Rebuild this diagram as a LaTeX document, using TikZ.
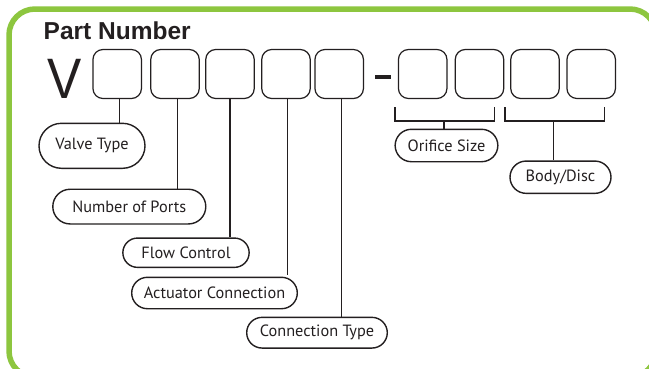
\documentclass[tikz,border=0pt]{standalone}
\usepackage{fontspec}
\setmainfont{PT Sans}
\newfontfamily\arialfont{Liberation Sans}
\usetikzlibrary{shapes.misc}
\definecolor{bordergreen}{RGB}{141,198,63}
\definecolor{ink}{RGB}{35,31,32}
\begin{document}
\begin{tikzpicture}[x=1pt,y=-1pt,
  slot/.style={draw=ink, line width=1.2pt, rounded corners=10pt, minimum width=48.5pt, minimum height=49pt, inner sep=0pt, fill=white},
  pill/.style={draw=ink, line width=1.4pt, rounded rectangle, inner sep=0pt, font=\fontsize{16.3}{18}\selectfont, text=ink, fill=white},
  link/.style={draw=ink, line width=1.2pt},
  bracketline/.style={draw=ink, line width=1.6pt},
  dashmark/.style={draw=ink, line width=3.6pt}
]
\useasboundingbox (0,0) rectangle (649,368);
\fill[white] (0,0) rectangle (649,368);
\draw[bordergreen, line width=5.5pt, rounded corners=26pt] (9,9) rectangle (656,377);

% title and prefix
\node[anchor=base west, inner sep=0pt, text=ink, font=\arialfont\bfseries\fontsize{24.5}{27}\selectfont] (title) at (43.5,39.3) {Part Number};
\node[anchor=base west, inner sep=0pt, text=ink, font=\arialfont\fontsize{57}{60}\selectfont] (vee) at (47,98) {\scalebox{0.9}[1]{V}};

% slots
\node[slot] (b1) at (117.2,74) {};
\node[slot] (b2) at (175,74) {};
\node[slot] (b3) at (230,74) {};
\node[slot] (b4) at (286,74) {};
\node[slot] (b5) at (339.2,74) {};
\draw[dashmark] (375,77) -- (390.7,77);
\node[slot] (b6) at (422.7,74) {};
\node[slot] (b7) at (479.5,74) {};
\node[slot] (b8) at (535,74) {};
\node[slot] (b9) at (591.2,74) {};

% labels
\node[pill, minimum width=106pt, minimum height=45pt] (vt) at (92,145.8) {Valve Type};
\node[pill, minimum width=153pt, minimum height=34.7pt] (np) at (129.3,206.6) {Number of Ports};
\node[pill, minimum width=126.3pt, minimum height=29.3pt] (fc) at (186,252.7) {Flow Control};
\node[pill, minimum width=165.6pt, minimum height=31.4pt] (ac) at (214.5,293) {Actuator Connection};
\node[pill, minimum width=140.6pt, minimum height=30.7pt] (ct) at (317,332.7) {Connection Type};
\node[pill, minimum width=102.7pt, minimum height=32.4pt] (os) at (446.5,145.5) {Orifice Size};
\node[pill, minimum width=101pt, minimum height=32.3pt] (bd) at (560.5,177.2) {Body/Disc};

% stems
\draw[link] ([xshift=2pt]b1.south) -- ([xshift=2pt]b1.south |- vt.north);
\draw[link] ([xshift=2.7pt]b2.south) -- ([xshift=2.7pt]b2.south |- np.north);
\draw[link] (b3.south) -- (b3.south |- fc.north);
\draw[link] ([xshift=1.7pt]b4.south) -- ([xshift=1.7pt,yshift=1.2pt]b4.south |- ac.north);
\draw[link] ([xshift=2.5pt]b5.south) -- ([xshift=2.5pt]b5.south |- ct.north);

% brackets
\coordinate (obl) at (395,107);
\coordinate (obr) at (494.3,107);
\coordinate (obm) at (444,120.7);
\draw[bracketline] (obl) -- (obl |- obm) -- (obr |- obm) -- (obr);
\draw[link] (obm) -- (obm |- os.north);
\coordinate (bbl) at (505,107);
\coordinate (bbr) at (604.3,107);
\coordinate (bbm) at (553.5,120.7);
\draw[bracketline] (bbl) -- (bbl |- bbm) -- (bbr |- bbm) -- (bbr);
\draw[link] (bbm) -- (bbm |- bd.north);
\end{tikzpicture}
\end{document}
